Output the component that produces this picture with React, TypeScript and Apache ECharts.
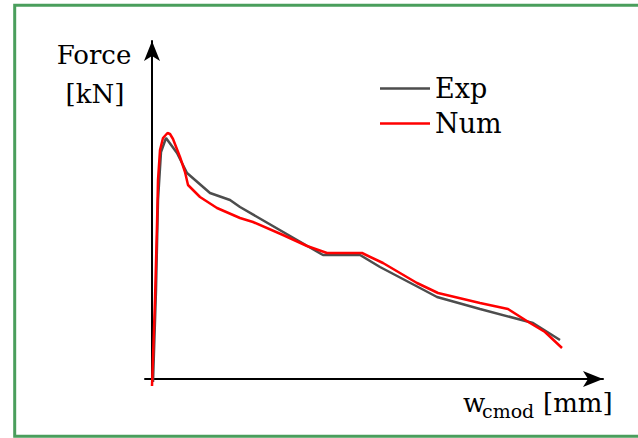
import React, { useEffect, useRef } from "react";
import * as echarts from "echarts";

const seriesNames = ["Exp", "Num"];

const expData: [number, number][] = [
  [0.01, -0.03], [0.04, 0.89], [0.06, 1.79], [0.09, 2.27], [0.14, 2.41],
  [0.25, 2.26], [0.35, 2.06], [0.58, 1.86], [0.78, 1.79], [0.88, 1.72],
  [1.71, 1.24], [2.08, 1.24], [2.28, 1.12], [2.68, 0.91], [2.85, 0.82],
  [3.28, 0.70], [3.81, 0.56], [4.08, 0.39],
];

const numData: [number, number][] = [
  [0.0, -0.07], [0.03, 0.79], [0.05, 1.54], [0.06, 1.99], [0.08, 2.29],
  [0.11, 2.41], [0.155, 2.46], [0.18, 2.45], [0.21, 2.40], [0.28, 2.22],
  [0.33, 2.07], [0.36, 1.94], [0.48, 1.82], [0.65, 1.71], [0.88, 1.61],
  [1.01, 1.57], [1.31, 1.44], [1.55, 1.33], [1.75, 1.26], [2.10, 1.26],
  [2.31, 1.16], [2.65, 0.96], [2.86, 0.86], [3.28, 0.76], [3.56, 0.70],
  [3.78, 0.56], [3.93, 0.47], [4.10, 0.31],
];

const yLabelLines = ["Force", "[kN]"];
const xLabelMain = "w";
const xLabelSub = "cmod";
const xLabelUnit = "[mm]";

const FONT = "DejaVu Serif";

export default function App() {
  const ref = useRef<HTMLDivElement>(null);
  useEffect(() => {
    if (!ref.current) return;
    const chart = echarts.init(ref.current, undefined, { renderer: "svg" });
    const axisLine = {
      show: true,
      onZero: true,
      symbol: ["none", "arrow"],
      symbolSize: [12, 20],
      lineStyle: { color: "#000", width: 2 },
    };
    const txt = (text: string, x: number, y: number, size: number, align = "left") => ({
      type: "text",
      x,
      y,
      style: {
        text,
        fontFamily: FONT,
        fontSize: size,
        fill: "#000",
        align,
        verticalAlign: "middle",
      },
    });
    chart.setOption({
      animation: false,
      backgroundColor: "#fff",
      grid: { left: 145, right: 35, top: 41, bottom: 53 },
      xAxis: {
        type: "value",
        min: -0.07,
        max: 4.51,
        axisLine,
        axisTick: { show: false },
        axisLabel: { show: false },
        splitLine: { show: false },
      },
      yAxis: {
        type: "value",
        min: -0.06,
        max: 3.38,
        axisLine,
        axisTick: { show: false },
        axisLabel: { show: false },
        splitLine: { show: false },
      },
      legend: {
        orient: "vertical",
        left: 375,
        top: 70,
        icon: "rect",
        itemWidth: 50,
        itemHeight: 2.5,
        itemGap: 8,
        data: seriesNames,
        textStyle: { fontFamily: FONT, fontSize: 27, color: "#000" },
      },
      series: [
        {
          name: seriesNames[0],
          type: "line",
          data: expData,
          symbol: "none",
          lineStyle: { color: "#4d4d4d", width: 2.5 },
          itemStyle: { color: "#4d4d4d" },
        },
        {
          name: seriesNames[1],
          type: "line",
          data: numData,
          symbol: "none",
          lineStyle: { color: "#ff0000", width: 2.5 },
          itemStyle: { color: "#ff0000" },
        },
      ],
      graphic: [
        {
          type: "rect",
          shape: { x: 14.7, y: 5.3, width: 700, height: 431 },
          style: { fill: "none", stroke: "#4a9e5c", lineWidth: 3 },
          silent: true,
        },
        txt(yLabelLines[0], 94, 55, 26, "center"),
        txt(yLabelLines[1], 95, 94, 26, "center"),
        txt(xLabelMain, 463, 403, 26),
        txt(xLabelSub, 482, 411, 19),
        txt(xLabelUnit, 543, 403, 26),
      ],
    });
    return () => chart.dispose();
  }, []);
  return (
    <div
      ref={ref}
      style={{ position: "fixed", left: 0, top: 0, width: 638, height: 438 }}
    />
  );
}
